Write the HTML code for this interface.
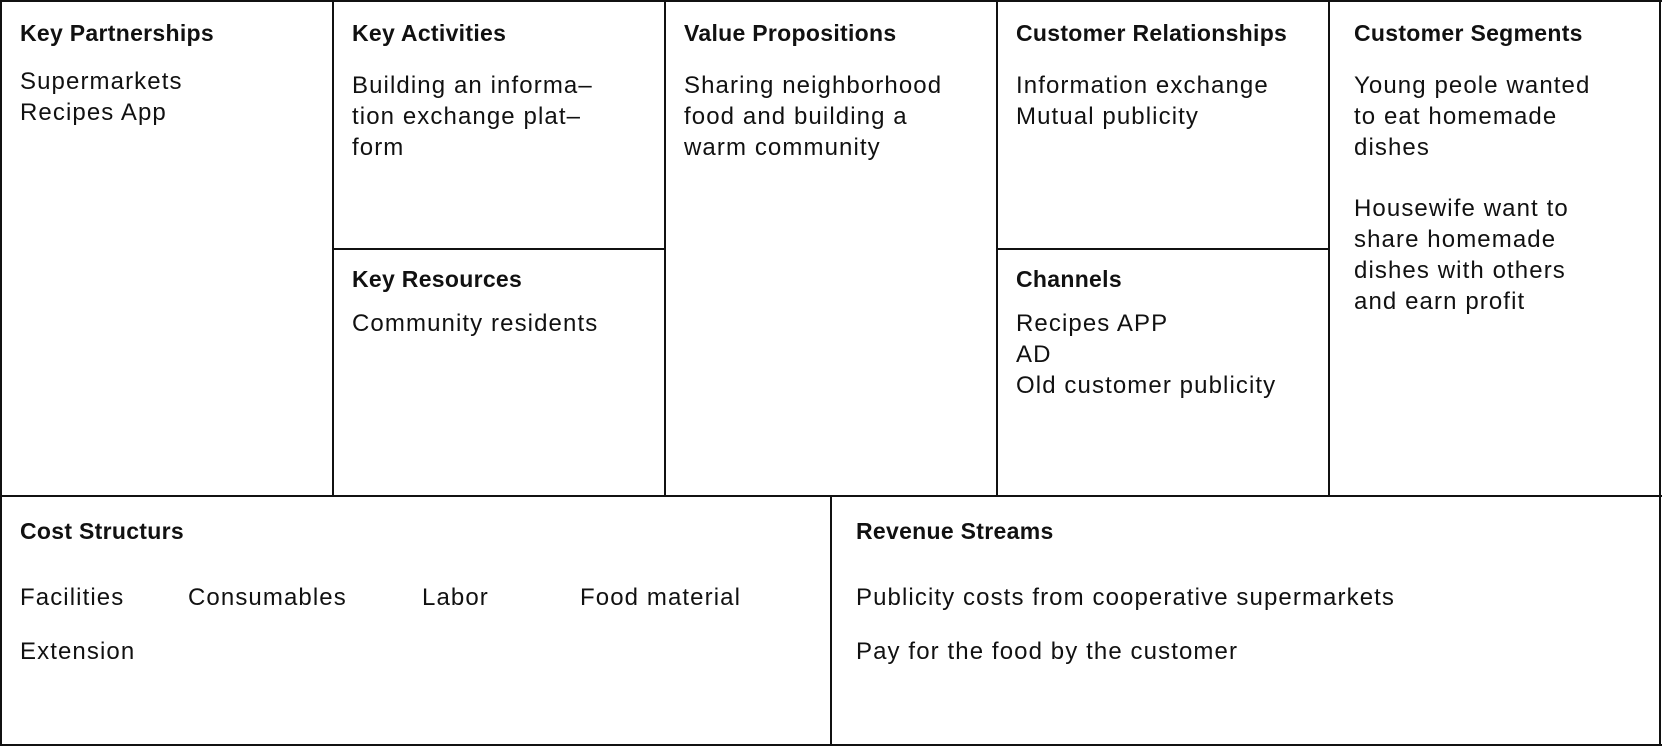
<!DOCTYPE html>
<html><head><style>
body{margin:0;width:1662px;height:746px;background:#fff;position:relative;overflow:hidden;font-family:"Liberation Sans","Noto Sans CJK SC",sans-serif;color:#111}
.l{position:absolute;background:#111}
.t{position:absolute;font-size:24px;letter-spacing:1.1px;line-height:31px;white-space:pre}
.h{font-size:23px;font-weight:bold;letter-spacing:0.3px}
</style></head><body>
<div class="l" style="left:0;top:0;width:1662px;height:2px"></div>
<div class="l" style="left:0;top:744px;width:1662px;height:2px"></div>
<div class="l" style="left:0;top:0;width:2px;height:746px"></div>
<div class="l" style="left:1659px;top:0;width:2px;height:746px"></div>
<div class="l" style="left:0;top:495px;width:1662px;height:2px"></div>
<div class="l" style="left:332px;top:0;width:2px;height:496px"></div>
<div class="l" style="left:664px;top:0;width:2px;height:496px"></div>
<div class="l" style="left:996px;top:0;width:2px;height:496px"></div>
<div class="l" style="left:1328px;top:0;width:2px;height:496px"></div>
<div class="l" style="left:332px;top:248px;width:333px;height:2px"></div>
<div class="l" style="left:996px;top:248px;width:333px;height:2px"></div>
<div class="l" style="left:830px;top:496px;width:2px;height:250px"></div>

<div class="t h" style="left:20px;top:18px">Key Partnerships</div>
<div class="t" style="left:20px;top:66px">Supermarkets
Recipes App</div>
<div class="t h" style="left:352px;top:18px">Key Activities</div>
<div class="t" style="left:352px;top:70px">Building an informa–
tion exchange plat–
form</div>
<div class="t h" style="left:352px;top:264px">Key Resources</div>
<div class="t" style="left:352px;top:308px">Community residents</div>
<div class="t h" style="left:684px;top:18px">Value Propositions</div>
<div class="t" style="left:684px;top:70px">Sharing neighborhood
food and building a
warm community</div>
<div class="t h" style="left:1016px;top:18px">Customer Relationships</div>
<div class="t" style="left:1016px;top:70px">Information exchange
Mutual publicity</div>
<div class="t h" style="left:1016px;top:264px">Channels</div>
<div class="t" style="left:1016px;top:308px">Recipes APP
AD
Old customer publicity</div>
<div class="t h" style="left:1354px;top:18px">Customer Segments</div>
<div class="t" style="left:1354px;top:70px">Young peole wanted
to eat homemade
dishes</div>
<div class="t" style="left:1354px;top:193px">Housewife want to
share homemade
dishes with others
and earn profit</div>
<div class="t h" style="left:20px;top:516px">Cost Structurs</div>
<div class="t" style="left:20px;top:582px">Facilities</div>
<div class="t" style="left:188px;top:582px">Consumables</div>
<div class="t" style="left:422px;top:582px">Labor</div>
<div class="t" style="left:580px;top:582px">Food material</div>
<div class="t" style="left:20px;top:636px">Extension</div>
<div class="t h" style="left:856px;top:516px">Revenue Streams</div>
<div class="t" style="left:856px;top:582px">Publicity costs from cooperative supermarkets</div>
<div class="t" style="left:856px;top:636px">Pay for the food by the customer</div>
</body></html>
